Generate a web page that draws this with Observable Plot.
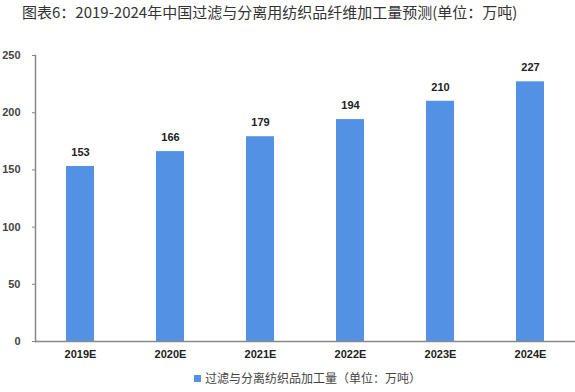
<!DOCTYPE html>
<html><head><meta charset="utf-8">
<script src="https://cdn.jsdelivr.net/npm/d3@7"></script>
<script src="https://cdn.jsdelivr.net/npm/@observablehq/plot@0.6"></script>
<style>
body{margin:0;background:#fff;font-family:"Noto Sans CJK SC",sans-serif;}
#title{height:28px;line-height:24px;font-size:15px;color:#333;padding-left:22px;white-space:nowrap;}
#legend{height:27px;font-size:12px;color:#444;text-align:center;padding-left:40px;line-height:26px;}
#legend span.sw{display:inline-block;width:7px;height:7px;background:#5391E4;margin-right:4px;vertical-align:1px;}
svg{display:block;}
</style></head><body>
<div id="title">图表6：2019-2024年中国过滤与分离用纺织品纤维加工量预测(单位：万吨)</div>
<div id="chart"></div>
<div id="legend"><span class="sw"></span>过滤与分离纺织品加工量（单位：万吨）</div>
<script>
const years = ["2019E","2020E","2021E","2022E","2023E","2024E"];
const values = [153,166,179,194,210,227];
const yTicks = [0,50,100,150,200,250];
const data = years.map((y,i)=>({year:y, value:values[i]}));
const chart = Plot.plot({
  width:575, height:337,
  marginTop:27, marginBottom:24, marginLeft:35, marginRight:0,
  style:{fontFamily:"Arial, 'Liberation Sans', sans-serif", fontSize:"11px", color:"#333", background:"#fff"},
  x:{domain:years, paddingInner:0.69, paddingOuter:0.33, label:null, tickSize:0},
  y:{domain:[0,250], ticks:yTicks, label:null, tickSize:3},
  marks:[
    Plot.barY(data,{x:"year", y:"value", fill:"#5391E4"}),
    Plot.text(data,{x:"year", y:"value", text:d=>String(d.value), dy:-14, fontWeight:"bold", fontSize:11, fill:"#222"}),
    Plot.frame({anchor:"left", stroke:"#888", strokeWidth:1.5}),
    Plot.ruleY([0],{stroke:"#888", strokeWidth:1.5}),
    Plot.axisY({ticks:yTicks, tickSize:3, stroke:"#888", tickPadding:12, fontWeight:"bold", fill:"#444", label:null}),
    Plot.axisX({tickSize:0, tickPadding:9, fontWeight:"bold", fill:"#222", label:null})
  ]
});
document.getElementById("chart").appendChild(chart);
</script>
</body></html>
